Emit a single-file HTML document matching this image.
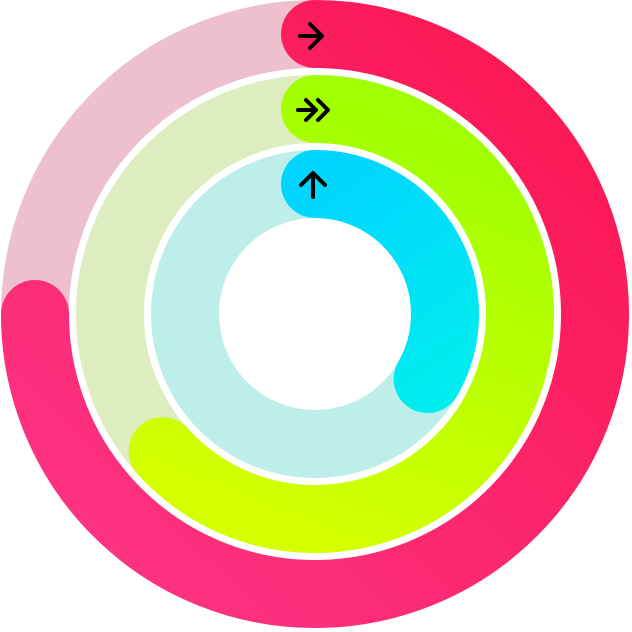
<!DOCTYPE html>
<html><head><style>html,body{margin:0;padding:0;background:#fff}svg{display:block}</style></head>
<body>
<svg width="632" height="632" viewBox="0 0 632 632" xmlns="http://www.w3.org/2000/svg">
<defs>
<linearGradient id="g1" gradientUnits="userSpaceOnUse" x1="560" y1="60" x2="60" y2="580"><stop offset="0" stop-color="#fb1753"/><stop offset="1" stop-color="#fd3485"/></linearGradient>
<linearGradient id="g2" gradientUnits="userSpaceOnUse" x1="330" y1="90" x2="180" y2="480"><stop offset="0" stop-color="#a0ff00"/><stop offset="1" stop-color="#d4ff00"/></linearGradient>
<linearGradient id="g3" gradientUnits="userSpaceOnUse" x1="300" y1="180" x2="440" y2="390"><stop offset="0" stop-color="#00d4ff"/><stop offset="1" stop-color="#00ecee"/></linearGradient>
</defs>
<g transform="translate(315,314)">
<circle r="280" fill="none" stroke="#eebfcc" stroke-width="68"/>
<circle r="205" fill="none" stroke="#ddedc0" stroke-width="68"/>
<circle r="130" fill="none" stroke="#bdeeea" stroke-width="68"/>
<circle r="243" fill="none" stroke="#fff" stroke-width="6"/>
<circle r="168" fill="none" stroke="#fff" stroke-width="6"/>
</g>
<g fill="none" stroke-width="68" stroke-linecap="round">
<path d="M315 34 A280 280 0 1 1 35 314" stroke="url(#g1)"/>
<path d="M315 109 A205 205 0 1 1 162.7 451.2" stroke="url(#g2)"/>
<path d="M315 184 A130 130 0 0 1 427.6 379" stroke="url(#g3)"/>
</g>
<g fill="none" stroke="#000" stroke-width="4" stroke-linecap="round" stroke-linejoin="round">
<path d="M300 36 H322 M310 24 L322 36 L310 48"/>
<path d="M298 110 H316 M306 100 L316 110 L306 120 M318 100 L328 110 L318 120"/>
<path d="M313 197 V174 M301 185 L313 173 L325 185"/>
</g>
</svg>
</body></html>
